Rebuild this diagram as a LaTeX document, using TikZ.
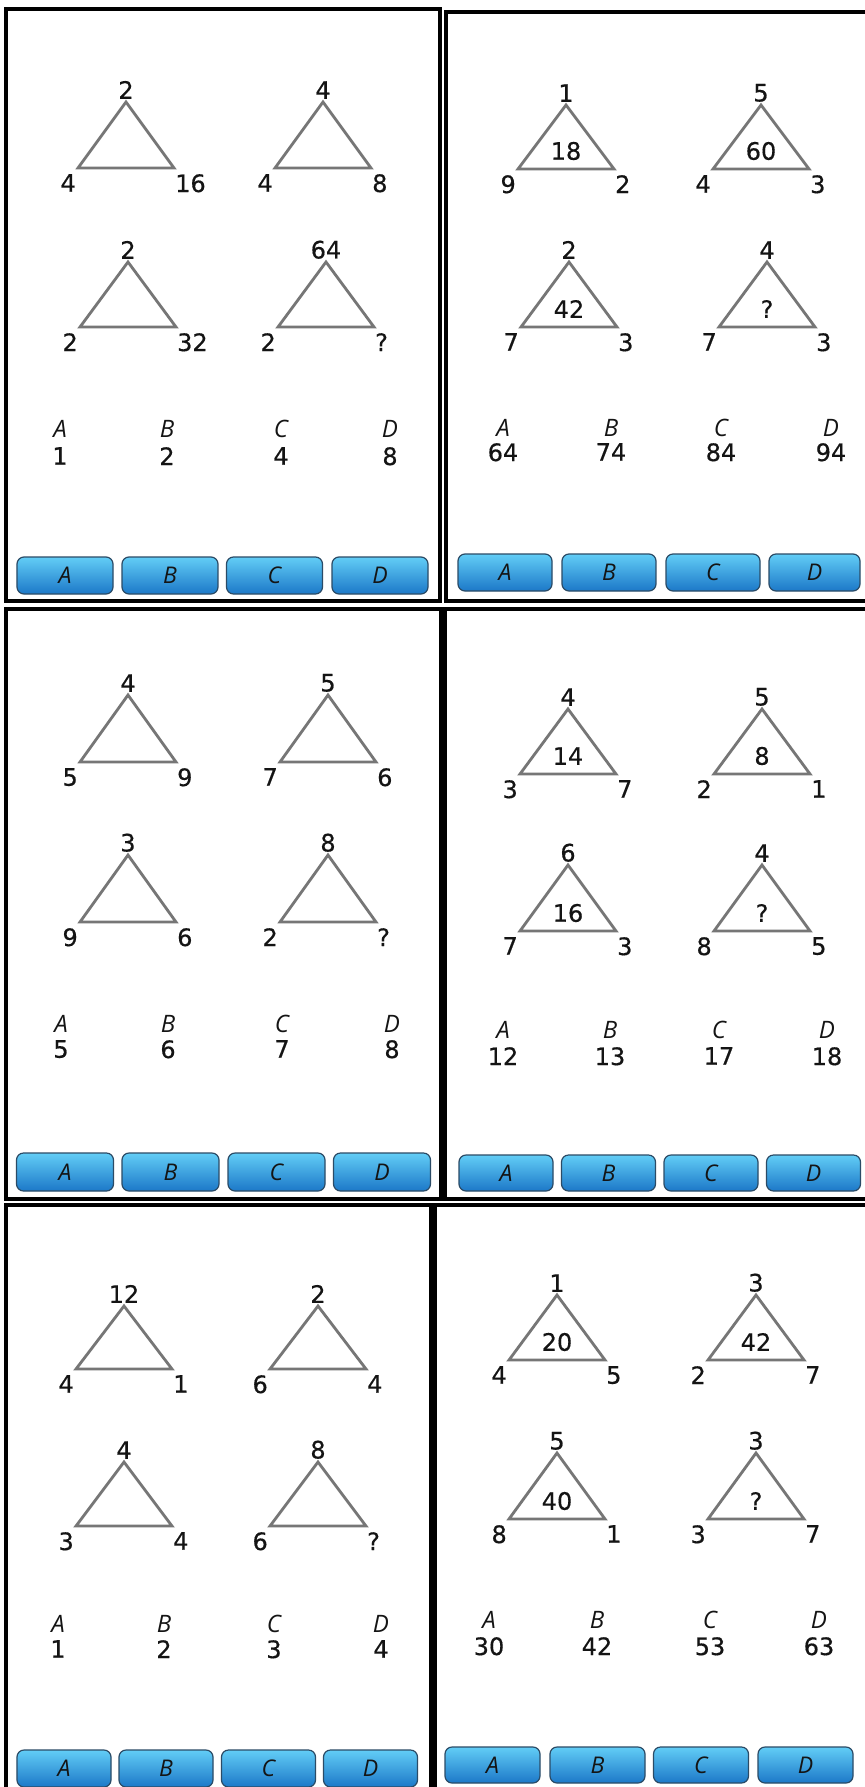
\documentclass[tikz,border=0pt]{standalone}
\usepackage{fontspec}
\setmainfont{DejaVu Sans}
\newfontfamily\numfont{DejaVu Sans}[FakeBold=0.5]
\newfontfamily\letterfont{Open Sans}
\definecolor{numcol}{HTML}{141414}
\definecolor{trigray}{HTML}{767676}
\definecolor{btntop}{HTML}{62CDF6}
\definecolor{btnbot}{HTML}{1C78C8}
\definecolor{btnedge}{HTML}{2B4B66}
\tikzset{
  num/.style={inner sep=0pt, font=\numfont\fontsize{24bp}{28bp}\selectfont, text=numcol},
  optletter/.style={inner sep=0pt, font=\letterfont\itshape\fontsize{24bp}{28bp}\selectfont, text=numcol},
  triline/.style={draw=trigray, line width=2.8bp, line join=miter},
  panel/.style={draw=black, line width=4bp},
  btn/.style={draw=btnedge, line width=1.2bp, rounded corners=7bp, top color=btntop, bottom color=btnbot, inner sep=0pt, font=\letterfont\itshape\fontsize{23bp}{26bp}\selectfont, text=numcol}
}
% #1 name, #2 apex x, #3 apex y, #4 base y, #5 top, #6 left, #7 right, #8 inner
\newcommand\puztri[8]{%
  \coordinate (#1a) at (#2,#3);
  \coordinate (#1l) at ({#2-48},#4);
  \coordinate (#1r) at ({#2+48},#4);
  \draw[triline] (#1a) -- (#1l) -- (#1r) -- cycle;
  \node[num, anchor=south] (#1t) at ([yshift=3bp]#1a) {#5};
  \node[num, anchor=north east] (#1bl) at ([xshift=-2bp,yshift=-6bp]#1l) {#6};
  \node[num, anchor=north west] (#1br) at ([xshift=1bp,yshift=-6bp]#1r) {#7};
  \node[num] (#1c) at (#2,{#4-18}) {#8};
}
% #1 name, #2 x, #3 letter baseline y, #4 number top y, #5 letter, #6 number
\newcommand\puzopt[6]{%
  \node[optletter, anchor=south] (#1l) at (#2,#3) {#5};
  \node[num, anchor=north] (#1n) at (#2,#4) {#6};
}
% #1 name, #2 cx, #3 cy, #4 w, #5 h, #6 letter
\newcommand\puzbtn[6]{%
  \node[btn, minimum width=#4bp, minimum height=#5bp] (#1) at (#2,#3) {#6};
}
\begin{document}
\begin{tikzpicture}[x=1bp,y=-1bp]
\useasboundingbox (0,0) rectangle (865,1787);
\clip (0,0) rectangle (865,1787);
\fill[white] (0,0) rectangle (865,1787);

% panel frames
\draw[panel] (6,9) rectangle (440,601);
\draw[panel] (875,12) -- (446,12) -- (446,601) -- (875,601);
\draw[panel] (6,609) rectangle (441,1199);
\draw[panel] (875,609) -- (445,609) -- (445,1199) -- (875,1199);
\draw[panel] (6,1800) -- (6,1205) -- (431,1205) -- (431,1800);
\draw[panel] (875,1205) -- (435,1205) -- (435,1800);

% ---------- panel 1 ----------
\puztri{pa1}{126}{102}{168}{2}{4}{16}{}
\puztri{pa2}{323}{102}{168}{4}{4}{8}{}
\puztri{pa3}{128}{262}{327}{2}{2}{32}{}
\puztri{pa4}{326}{262}{327}{64}{2}{?}{}
\puzopt{pao1}{60}{438}{447}{A}{1}
\puzopt{pao2}{167}{438}{447}{B}{2}
\puzopt{pao3}{281}{438}{447}{C}{4}
\puzopt{pao4}{390}{438}{447}{D}{8}
\puzbtn{pab1}{65}{575.5}{96}{37}{A}
\puzbtn{pab2}{170}{575.5}{96}{37}{B}
\puzbtn{pab3}{274.5}{575.5}{96}{37}{C}
\puzbtn{pab4}{380}{575.5}{96}{37}{D}

% ---------- panel 2 ----------
\puztri{pb1}{566}{105}{169}{1}{9}{2}{18}
\puztri{pb2}{761}{105}{169}{5}{4}{3}{60}
\puztri{pb3}{569}{262}{327}{2}{7}{3}{42}
\puztri{pb4}{767}{262}{327}{4}{7}{3}{?}
\puzopt{pbo1}{503}{437}{443}{A}{64}
\puzopt{pbo2}{611}{437}{443}{B}{74}
\puzopt{pbo3}{721}{437}{443}{C}{84}
\puzopt{pbo4}{831}{437}{443}{D}{94}
\puzbtn{pbb1}{505}{572.5}{94}{37}{A}
\puzbtn{pbb2}{609}{572.5}{94}{37}{B}
\puzbtn{pbb3}{713}{572.5}{94}{37}{C}
\puzbtn{pbb4}{814.5}{572.5}{91}{37}{D}

% ---------- panel 3 ----------
\puztri{pc1}{128}{695}{762}{4}{5}{9}{}
\puztri{pc2}{328}{695}{762}{5}{7}{6}{}
\puztri{pc3}{128}{855}{922}{3}{9}{6}{}
\puztri{pc4}{328}{855}{922}{8}{2}{?}{}
\puzopt{pco1}{61}{1033}{1040}{A}{5}
\puzopt{pco2}{168}{1033}{1040}{B}{6}
\puzopt{pco3}{282}{1033}{1040}{C}{7}
\puzopt{pco4}{392}{1033}{1040}{D}{8}
\puzbtn{pcb1}{65}{1172}{97}{38}{A}
\puzbtn{pcb2}{170.5}{1172}{97}{38}{B}
\puzbtn{pcb3}{276.5}{1172}{97}{38}{C}
\puzbtn{pcb4}{382}{1172}{97}{38}{D}

% ---------- panel 4 ----------
\puztri{pd1}{568}{709}{774}{4}{3}{7}{14}
\puztri{pd2}{762}{709}{774}{5}{2}{1}{8}
\puztri{pd3}{568}{865}{931}{6}{7}{3}{16}
\puztri{pd4}{762}{865}{931}{4}{8}{5}{?}
\puzopt{pdo1}{503}{1039}{1047}{A}{12}
\puzopt{pdo2}{610}{1039}{1047}{B}{13}
\puzopt{pdo3}{719}{1039}{1047}{C}{17}
\puzopt{pdo4}{827}{1039}{1047}{D}{18}
\puzbtn{pdb1}{506}{1173}{94}{36}{A}
\puzbtn{pdb2}{608.5}{1173}{94}{36}{B}
\puzbtn{pdb3}{711}{1173}{94}{36}{C}
\puzbtn{pdb4}{813.5}{1173}{94}{36}{D}

% ---------- panel 5 ----------
\puztri{pe1}{124}{1306}{1369}{12}{4}{1}{}
\puztri{pe2}{318}{1306}{1369}{2}{6}{4}{}
\puztri{pe3}{124}{1462}{1526}{4}{3}{4}{}
\puztri{pe4}{318}{1462}{1526}{8}{6}{?}{}
\puzopt{peo1}{58}{1633}{1640}{A}{1}
\puzopt{peo2}{164}{1633}{1640}{B}{2}
\puzopt{peo3}{274}{1633}{1640}{C}{3}
\puzopt{peo4}{381}{1633}{1640}{D}{4}
\puzbtn{peb1}{64}{1768.5}{94}{37}{A}
\puzbtn{peb2}{166}{1768.5}{94}{37}{B}
\puzbtn{peb3}{268.5}{1768.5}{94}{37}{C}
\puzbtn{peb4}{370.5}{1768.5}{94}{37}{D}

% ---------- panel 6 ----------
\puztri{pf1}{557}{1295}{1360}{1}{4}{5}{20}
\puztri{pf2}{756}{1295}{1360}{3}{2}{7}{42}
\puztri{pf3}{557}{1453}{1519}{5}{8}{1}{40}
\puztri{pf4}{756}{1453}{1519}{3}{3}{7}{?}
\puzopt{pfo1}{489}{1629}{1637}{A}{30}
\puzopt{pfo2}{597}{1629}{1637}{B}{42}
\puzopt{pfo3}{710}{1629}{1637}{C}{53}
\puzopt{pfo4}{819}{1629}{1637}{D}{63}
\puzbtn{pfb1}{492.5}{1765}{95}{36}{A}
\puzbtn{pfb2}{597.5}{1765}{95}{36}{B}
\puzbtn{pfb3}{701}{1765}{95}{36}{C}
\puzbtn{pfb4}{805.5}{1765}{95}{36}{D}
\end{tikzpicture}
\end{document}
